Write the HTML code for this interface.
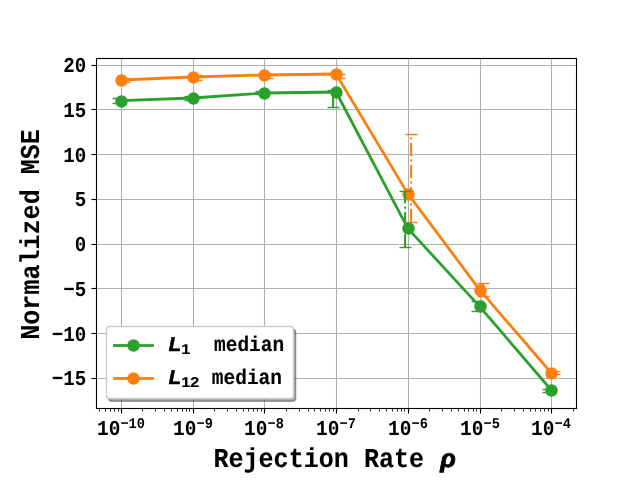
<!DOCTYPE html>
<html><head><meta charset="utf-8"><title>Normalized MSE vs Rejection Rate</title>
<style>html,body{margin:0;padding:0;background:#fff;}svg{display:block;}text{font-family:"Liberation Mono",monospace;font-weight:bold;fill:#000;text-rendering:geometricPrecision;}.it{font-family:"Liberation Sans",sans-serif;font-style:italic;font-weight:bold;}</style></head><body>
<svg width="640" height="480" viewBox="0 0 640 480">
<rect x="0" y="0" width="640" height="480" fill="#ffffff"/>
<g stroke="#b0b0b0" stroke-width="1.11" fill="none">
<line x1="121.5" y1="58.5" x2="121.5" y2="408.5"/>
<line x1="193.5" y1="58.5" x2="193.5" y2="408.5"/>
<line x1="264.5" y1="58.5" x2="264.5" y2="408.5"/>
<line x1="336.5" y1="58.5" x2="336.5" y2="408.5"/>
<line x1="408.5" y1="58.5" x2="408.5" y2="408.5"/>
<line x1="480.5" y1="58.5" x2="480.5" y2="408.5"/>
<line x1="551.5" y1="58.5" x2="551.5" y2="408.5"/>
<line x1="96.5" y1="65.5" x2="576.5" y2="65.5"/>
<line x1="96.5" y1="109.5" x2="576.5" y2="109.5"/>
<line x1="96.5" y1="154.5" x2="576.5" y2="154.5"/>
<line x1="96.5" y1="199.5" x2="576.5" y2="199.5"/>
<line x1="96.5" y1="244.5" x2="576.5" y2="244.5"/>
<line x1="96.5" y1="288.5" x2="576.5" y2="288.5"/>
<line x1="96.5" y1="333.5" x2="576.5" y2="333.5"/>
<line x1="96.5" y1="378.5" x2="576.5" y2="378.5"/>
</g>
<clipPath id="ax"><rect x="96" y="57.6" width="480" height="350.4"/></clipPath>
<g clip-path="url(#ax)">
<g fill="#ff7f0e" stroke="none">
<rect x="123.06" y="78.6" width="2.08" height="3.7"/>
<rect x="118.5" y="81.805" width="12" height="1.39"/>
<rect x="118.5" y="77.805" width="12" height="1.39"/>
<rect x="195.06" y="75.9" width="2.08" height="4.4"/>
<rect x="190.5" y="79.805" width="12" height="1.39"/>
<rect x="190.5" y="74.805" width="12" height="1.39"/>
<rect x="266.06" y="74.5" width="2.08" height="3.8"/>
<rect x="261.5" y="77.805" width="12" height="1.39"/>
<rect x="261.5" y="73.805" width="12" height="1.39"/>
<rect x="338.06" y="74.7" width="2.08" height="3.3"/>
<rect x="333.5" y="77.805" width="12" height="1.39"/>
<rect x="333.5" y="73.805" width="12" height="1.39"/>
<rect x="410.06" y="208.97" width="2.08" height="13.33"/>
<rect x="410.06" y="203.56" width="2.08" height="2.08"/>
<rect x="410.06" y="186.9" width="2.08" height="13.33"/>
<rect x="410.06" y="181.49" width="2.08" height="2.08"/>
<rect x="410.06" y="164.83" width="2.08" height="13.33"/>
<rect x="410.06" y="159.42" width="2.08" height="2.08"/>
<rect x="410.06" y="142.76" width="2.08" height="13.33"/>
<rect x="410.06" y="137.35" width="2.08" height="2.08"/>
<rect x="405.5" y="221.805" width="12" height="1.39"/>
<rect x="405.5" y="133.805" width="12" height="1.39"/>
<rect x="482.06" y="283.6" width="2.08" height="13.1"/>
<rect x="477.5" y="295.805" width="12" height="1.39"/>
<rect x="477.5" y="282.805" width="12" height="1.39"/>
<rect x="553.06" y="371.7" width="2.08" height="3.0"/>
<rect x="548.5" y="373.805" width="12" height="1.39"/>
<rect x="548.5" y="370.805" width="12" height="1.39"/>
</g>
<polyline points="120.9,80.0 192.62,77.0 264.34,75.0 336.06,74.0 407.78,193.6 479.5,289.6 551.22,373.0" fill="none" stroke="#ff7f0e" stroke-width="2.78" stroke-linejoin="round" stroke-linecap="butt"/>
<circle cx="121.5" cy="80.5" r="6.2" fill="#ff7f0e"/>
<circle cx="193.5" cy="77.5" r="6.2" fill="#ff7f0e"/>
<circle cx="264.5" cy="75.5" r="6.2" fill="#ff7f0e"/>
<circle cx="336.5" cy="74.5" r="6.2" fill="#ff7f0e"/>
<circle cx="408.5" cy="194.5" r="6.2" fill="#ff7f0e"/>
<circle cx="480.5" cy="290.5" r="6.2" fill="#ff7f0e"/>
<circle cx="551.5" cy="373.5" r="6.2" fill="#ff7f0e"/>
<polyline points="120.9,100.6 192.62,98.0 264.34,93.0 336.06,92.0 407.78,228.4 479.5,306.4 551.22,390.0" fill="none" stroke="#2ca02c" stroke-width="2.78" stroke-linejoin="round" stroke-linecap="butt"/>
<circle cx="121.5" cy="101.5" r="6.2" fill="#2ca02c"/>
<circle cx="193.5" cy="98.5" r="6.2" fill="#2ca02c"/>
<circle cx="264.5" cy="93.5" r="6.2" fill="#2ca02c"/>
<circle cx="336.5" cy="92.5" r="6.2" fill="#2ca02c"/>
<circle cx="408.5" cy="228.5" r="6.2" fill="#2ca02c"/>
<circle cx="480.5" cy="306.5" r="6.2" fill="#2ca02c"/>
<circle cx="551.5" cy="390.5" r="6.2" fill="#2ca02c"/>
<g fill="#2ca02c" stroke="none">
<rect x="117.06" y="98.3" width="2.08" height="5.1"/>
<rect x="112.5" y="102.805" width="12" height="1.39"/>
<rect x="112.5" y="97.805" width="12" height="1.39"/>
<rect x="189.06" y="96.7" width="2.08" height="3.5"/>
<rect x="184.5" y="99.805" width="12" height="1.39"/>
<rect x="184.5" y="95.805" width="12" height="1.39"/>
<rect x="260.06" y="91.9" width="2.08" height="3.0"/>
<rect x="255.5" y="93.805" width="12" height="1.39"/>
<rect x="255.5" y="90.805" width="12" height="1.39"/>
<rect x="332.06" y="94.12" width="2.08" height="13.33"/>
<rect x="332.06" y="90.3" width="2.08" height="0.49"/>
<rect x="327.5" y="106.805" width="12" height="1.39"/>
<rect x="327.5" y="89.805" width="12" height="1.39"/>
<rect x="404.06" y="234.17" width="2.08" height="13.33"/>
<rect x="404.06" y="228.76" width="2.08" height="2.08"/>
<rect x="404.06" y="212.1" width="2.08" height="13.33"/>
<rect x="404.06" y="206.69" width="2.08" height="2.08"/>
<rect x="404.06" y="191.4" width="2.08" height="11.96"/>
<rect x="399.5" y="246.805" width="12" height="1.39"/>
<rect x="399.5" y="190.805" width="12" height="1.39"/>
<rect x="476.06" y="301.1" width="2.08" height="9.9"/>
<rect x="471.5" y="310.805" width="12" height="1.39"/>
<rect x="471.5" y="300.805" width="12" height="1.39"/>
<rect x="547.06" y="389.5" width="2.08" height="3.0"/>
<rect x="542.5" y="391.805" width="12" height="1.39"/>
<rect x="542.5" y="388.805" width="12" height="1.39"/>
</g>
</g>
<g stroke="#000" stroke-width="1.11" fill="none" stroke-linecap="square">
<rect x="96.5" y="58.5" width="480.0" height="350.0"/>
<line x1="91.5" y1="65.5" x2="96.5" y2="65.5" stroke-linecap="butt"/>
<line x1="91.5" y1="109.5" x2="96.5" y2="109.5" stroke-linecap="butt"/>
<line x1="91.5" y1="154.5" x2="96.5" y2="154.5" stroke-linecap="butt"/>
<line x1="91.5" y1="199.5" x2="96.5" y2="199.5" stroke-linecap="butt"/>
<line x1="91.5" y1="244.5" x2="96.5" y2="244.5" stroke-linecap="butt"/>
<line x1="91.5" y1="288.5" x2="96.5" y2="288.5" stroke-linecap="butt"/>
<line x1="91.5" y1="333.5" x2="96.5" y2="333.5" stroke-linecap="butt"/>
<line x1="91.5" y1="378.5" x2="96.5" y2="378.5" stroke-linecap="butt"/>
<line x1="121.5" y1="408.5" x2="121.5" y2="413.5" stroke-linecap="butt"/>
<line x1="193.5" y1="408.5" x2="193.5" y2="413.5" stroke-linecap="butt"/>
<line x1="264.5" y1="408.5" x2="264.5" y2="413.5" stroke-linecap="butt"/>
<line x1="336.5" y1="408.5" x2="336.5" y2="413.5" stroke-linecap="butt"/>
<line x1="408.5" y1="408.5" x2="408.5" y2="413.5" stroke-linecap="butt"/>
<line x1="480.5" y1="408.5" x2="480.5" y2="413.5" stroke-linecap="butt"/>
<line x1="551.5" y1="408.5" x2="551.5" y2="413.5" stroke-linecap="butt"/>
</g>
<g stroke="#000" stroke-width="0.83" fill="none">
<line x1="99.5" y1="408.5" x2="99.5" y2="411.58"/>
<line x1="105.5" y1="408.5" x2="105.5" y2="411.58"/>
<line x1="110.5" y1="408.5" x2="110.5" y2="411.58"/>
<line x1="114.5" y1="408.5" x2="114.5" y2="411.58"/>
<line x1="118.5" y1="408.5" x2="118.5" y2="411.58"/>
<line x1="142.5" y1="408.5" x2="142.5" y2="411.58"/>
<line x1="155.5" y1="408.5" x2="155.5" y2="411.58"/>
<line x1="164.5" y1="408.5" x2="164.5" y2="411.58"/>
<line x1="171.5" y1="408.5" x2="171.5" y2="411.58"/>
<line x1="177.5" y1="408.5" x2="177.5" y2="411.58"/>
<line x1="182.5" y1="408.5" x2="182.5" y2="411.58"/>
<line x1="186.5" y1="408.5" x2="186.5" y2="411.58"/>
<line x1="189.5" y1="408.5" x2="189.5" y2="411.58"/>
<line x1="214.5" y1="408.5" x2="214.5" y2="411.58"/>
<line x1="227.5" y1="408.5" x2="227.5" y2="411.58"/>
<line x1="236.5" y1="408.5" x2="236.5" y2="411.58"/>
<line x1="243.5" y1="408.5" x2="243.5" y2="411.58"/>
<line x1="248.5" y1="408.5" x2="248.5" y2="411.58"/>
<line x1="253.5" y1="408.5" x2="253.5" y2="411.58"/>
<line x1="257.5" y1="408.5" x2="257.5" y2="411.58"/>
<line x1="261.5" y1="408.5" x2="261.5" y2="411.58"/>
<line x1="286.5" y1="408.5" x2="286.5" y2="411.58"/>
<line x1="299.5" y1="408.5" x2="299.5" y2="411.58"/>
<line x1="308.5" y1="408.5" x2="308.5" y2="411.58"/>
<line x1="314.5" y1="408.5" x2="314.5" y2="411.58"/>
<line x1="320.5" y1="408.5" x2="320.5" y2="411.58"/>
<line x1="325.5" y1="408.5" x2="325.5" y2="411.58"/>
<line x1="329.5" y1="408.5" x2="329.5" y2="411.58"/>
<line x1="333.5" y1="408.5" x2="333.5" y2="411.58"/>
<line x1="358.5" y1="408.5" x2="358.5" y2="411.58"/>
<line x1="370.5" y1="408.5" x2="370.5" y2="411.58"/>
<line x1="379.5" y1="408.5" x2="379.5" y2="411.58"/>
<line x1="386.5" y1="408.5" x2="386.5" y2="411.58"/>
<line x1="392.5" y1="408.5" x2="392.5" y2="411.58"/>
<line x1="397.5" y1="408.5" x2="397.5" y2="411.58"/>
<line x1="401.5" y1="408.5" x2="401.5" y2="411.58"/>
<line x1="404.5" y1="408.5" x2="404.5" y2="411.58"/>
<line x1="429.5" y1="408.5" x2="429.5" y2="411.58"/>
<line x1="442.5" y1="408.5" x2="442.5" y2="411.58"/>
<line x1="451.5" y1="408.5" x2="451.5" y2="411.58"/>
<line x1="458.5" y1="408.5" x2="458.5" y2="411.58"/>
<line x1="464.5" y1="408.5" x2="464.5" y2="411.58"/>
<line x1="468.5" y1="408.5" x2="468.5" y2="411.58"/>
<line x1="473.5" y1="408.5" x2="473.5" y2="411.58"/>
<line x1="476.5" y1="408.5" x2="476.5" y2="411.58"/>
<line x1="501.5" y1="408.5" x2="501.5" y2="411.58"/>
<line x1="514.5" y1="408.5" x2="514.5" y2="411.58"/>
<line x1="523.5" y1="408.5" x2="523.5" y2="411.58"/>
<line x1="530.5" y1="408.5" x2="530.5" y2="411.58"/>
<line x1="535.5" y1="408.5" x2="535.5" y2="411.58"/>
<line x1="540.5" y1="408.5" x2="540.5" y2="411.58"/>
<line x1="544.5" y1="408.5" x2="544.5" y2="411.58"/>
<line x1="548.5" y1="408.5" x2="548.5" y2="411.58"/>
<line x1="573.5" y1="408.5" x2="573.5" y2="411.58"/>
</g>
<rect x="108.6" y="329.2" width="187" height="72" rx="3" ry="3" fill="#4d4d4d" fill-opacity="0.5" stroke="#4d4d4d" stroke-opacity="0.5" stroke-width="1.39"/>
<rect x="106.5" y="326.5" width="187" height="72" rx="3" ry="3" fill="#ffffff" stroke="#cccccc" stroke-width="1.39"/>
<rect x="113.1" y="344.11" width="40.8" height="2.78" fill="#2ca02c"/>
<circle cx="133.5" cy="345.5" r="6.2" fill="#2ca02c"/>
<rect x="113.1" y="377.11" width="40.8" height="2.78" fill="#ff7f0e"/>
<circle cx="133.5" cy="378.5" r="6.2" fill="#ff7f0e"/>
<g style="filter:grayscale(1)">
<text x="63.2" y="72" font-size="21.2" textLength="23.0" lengthAdjust="spacingAndGlyphs">20</text>
<text x="63.2" y="117" font-size="21.2" textLength="23.0" lengthAdjust="spacingAndGlyphs">15</text>
<text x="63.2" y="162" font-size="21.2" textLength="23.0" lengthAdjust="spacingAndGlyphs">10</text>
<text x="74.7" y="206" font-size="21.2" textLength="11.5" lengthAdjust="spacingAndGlyphs">5</text>
<text x="74.7" y="251" font-size="21.2" textLength="11.5" lengthAdjust="spacingAndGlyphs">0</text>
<text x="63.2" y="296" font-size="21.2" textLength="23.0" lengthAdjust="spacingAndGlyphs">−5</text>
<text x="51.7" y="341" font-size="21.2" textLength="34.5" lengthAdjust="spacingAndGlyphs">−10</text>
<text x="51.7" y="385" font-size="21.2" textLength="34.5" lengthAdjust="spacingAndGlyphs">−15</text>
<text x="97.02" y="435" font-size="21.2" textLength="23.4" lengthAdjust="spacingAndGlyphs">10</text>
<text x="120.41" y="428" font-size="14.84" textLength="24.57" lengthAdjust="spacingAndGlyphs">−10</text>
<text x="173.11" y="435" font-size="21.2" textLength="23.4" lengthAdjust="spacingAndGlyphs">10</text>
<text x="196.51" y="428" font-size="14.84" textLength="16.38" lengthAdjust="spacingAndGlyphs">−9</text>
<text x="244.11" y="435" font-size="21.2" textLength="23.4" lengthAdjust="spacingAndGlyphs">10</text>
<text x="267.51" y="428" font-size="14.84" textLength="16.38" lengthAdjust="spacingAndGlyphs">−8</text>
<text x="316.11" y="435" font-size="21.2" textLength="23.4" lengthAdjust="spacingAndGlyphs">10</text>
<text x="339.51" y="428" font-size="14.84" textLength="16.38" lengthAdjust="spacingAndGlyphs">−7</text>
<text x="388.11" y="435" font-size="21.2" textLength="23.4" lengthAdjust="spacingAndGlyphs">10</text>
<text x="411.51" y="428" font-size="14.84" textLength="16.38" lengthAdjust="spacingAndGlyphs">−6</text>
<text x="460.11" y="435" font-size="21.2" textLength="23.4" lengthAdjust="spacingAndGlyphs">10</text>
<text x="483.51" y="428" font-size="14.84" textLength="16.38" lengthAdjust="spacingAndGlyphs">−5</text>
<text x="531.11" y="435" font-size="21.2" textLength="23.4" lengthAdjust="spacingAndGlyphs">10</text>
<text x="554.51" y="428" font-size="14.84" textLength="16.38" lengthAdjust="spacingAndGlyphs">−4</text>
<text x="213.4" y="467" font-size="27.3" textLength="225.75" lengthAdjust="spacingAndGlyphs" xml:space="preserve" stroke="#000" stroke-width="0.1">Rejection Rate </text>
<text class="it" x="440.15" y="467" font-size="25.6" stroke="#000" stroke-width="0.8" stroke-linejoin="round">&#961;</text>
<text transform="translate(39,339.8) rotate(-90)" x="0" y="0" font-size="27.3" textLength="210.7" lengthAdjust="spacingAndGlyphs" stroke="#000" stroke-width="0.05">Normalized MSE</text>
<text class="it" x="168.8" y="351" font-size="20" stroke="#000" stroke-width="0.7" stroke-linejoin="round">L</text>
<text x="181.2" y="354" font-size="14.2" style="font-family:'Liberation Sans',sans-serif" textLength="9.1" lengthAdjust="spacingAndGlyphs" stroke="#000" stroke-width="0.12">1</text>
<text x="214.0" y="351" font-size="21.2" textLength="70.2" lengthAdjust="spacingAndGlyphs" stroke="#000" stroke-width="0.12">median</text>
<text class="it" x="168.8" y="384" font-size="20" stroke="#000" stroke-width="0.7" stroke-linejoin="round">L</text>
<text x="181.2" y="387" font-size="14.2" style="font-family:'Liberation Sans',sans-serif" textLength="18.2" lengthAdjust="spacingAndGlyphs" stroke="#000" stroke-width="0.12">12</text>
<text x="211.8" y="384" font-size="21.2" textLength="70.2" lengthAdjust="spacingAndGlyphs" stroke="#000" stroke-width="0.12">median</text>
</g>
</svg></body></html>
